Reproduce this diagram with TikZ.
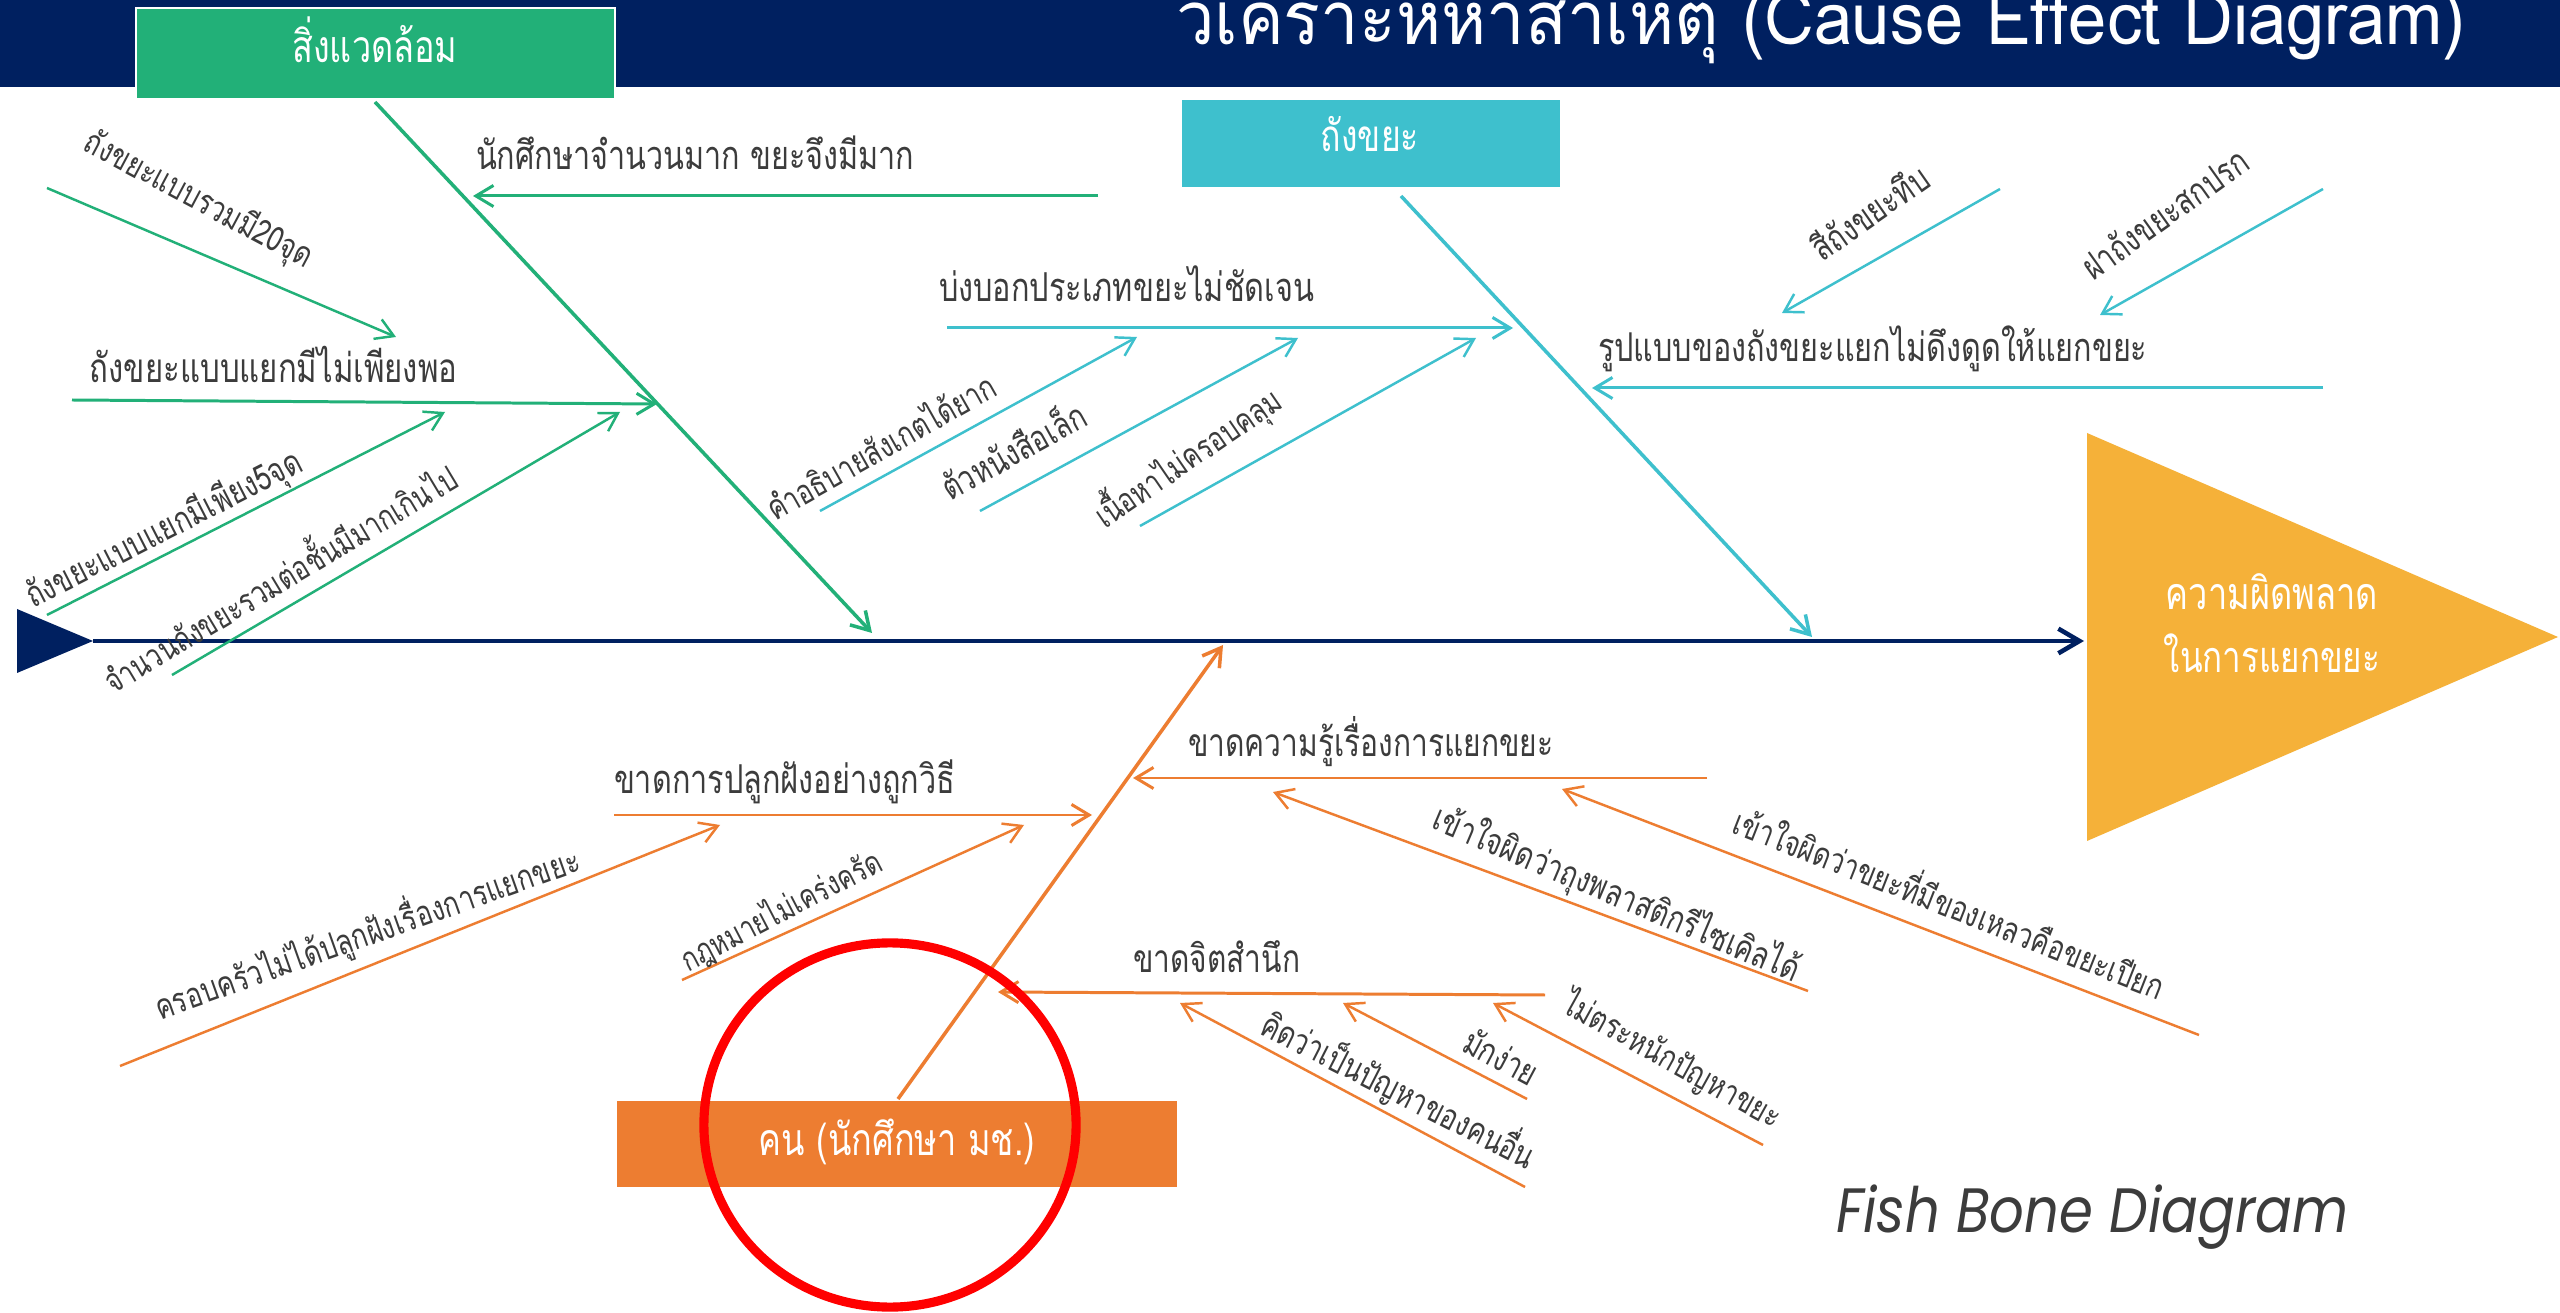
\documentclass[tikz,border=0pt]{standalone}
\usepackage{graphicx}
\usepackage{fontspec}
\setmainfont[Script=Thai]{Loma}
\newfontfamily\popfont{Poppins}
\usetikzlibrary{arrows.meta,shapes.geometric}
\definecolor{navy}{HTML}{002060}
\definecolor{cgreen}{HTML}{22B078}
\definecolor{ccyan}{HTML}{3EC0CD}
\definecolor{corange}{HTML}{ED7D31}
\definecolor{cgold}{HTML}{F5B139}
\definecolor{ctext}{HTML}{3C3C3C}
% fit a text to a width (in mm; 1 px of the reference = 0.1 mm) and stretch it vertically
\newcommand\fitw[2]{\scalebox{1}[1.3]{\resizebox{#1mm}{!}{#2}}}
\newcommand\fitt[3]{\scalebox{1}[#2]{\resizebox{#1mm}{!}{#3}}}
\tikzset{
  lbl/.style={inner sep=0pt, outer sep=0pt, text=ctext, anchor=base west},
  wlbl/.style={inner sep=0pt, outer sep=0pt, text=white, anchor=base},
  tipb/.style={-{Straight Barb[length=5pt,width=6pt]}},
  catline/.style={line width=1pt, tipb},
  bone/.style={line width=0.85pt, tipb},
  subbone/.style={line width=0.7pt, tipb},
  boxnode/.style={inner sep=0pt, outer sep=0pt, draw=none},
}
\begin{document}
\begin{tikzpicture}[x=0.01cm,y=-0.01cm]
\useasboundingbox (0,0) rectangle (2560,1313);
\clip (0,0) rectangle (2560,1313);
\fill[white] (0,0) rectangle (2560,1313);
% header
\fill[navy] (0,0) rectangle (2560,87);
\node[lbl, text=white] (title) at (1176,45) {\fitt{128.9}{1.08}{วิเคราะห์หาสาเหตุ (Cause Effect Diagram)}};

% category boxes
\node[boxnode, fill=cgreen, draw=white, line width=0.6pt, minimum width=47.9mm, minimum height=9.1mm] (envbox) at (375.5,53.5) {};
\node[wlbl] (envtxt) at (375,63) {\fitw{16.5}{สิ่งแวดล้อม}};
\node[boxnode, fill=ccyan, minimum width=37.8mm, minimum height=8.7mm] (binbox) at (1371,143.5) {};
\node[wlbl] (bintxt) at (1370,152) {\fitw{9.8}{ถังขยะ}};
\node[boxnode, fill=corange, minimum width=56mm, minimum height=8.6mm] (ppl) at (897,1144) {};
\node[wlbl] (ppltxt) at (897,1155) {\fitw{27.6}{คน (นักศึกษา มช.)}};

% effect triangle
\coordinate (eA) at (2087,433);
\coordinate (eB) at (2558,637);
\coordinate (eC) at (2087,841);
\fill[cgold] (eA) -- (eB) -- (eC) -- cycle;
\node[wlbl] (eff1) at (2272,610) {\fitw{21.2}{ความผิดพลาด}};
\node[wlbl] (eff2) at (2272,673) {\fitw{21.6}{ในการแยกขยะ}};

% main spine
\coordinate (tA) at (17,609);
\coordinate (tB) at (93,641);
\coordinate (tC) at (17,673);
\fill[navy] (tA) -- (tB) -- (tC) -- cycle;
\coordinate (spE) at (2084,641);
\draw[navy, line width=1.3pt, -{Straight Barb[length=6pt,width=7pt]}] (tB) -- (spE);

% ---------- green (environment) ----------
\coordinate (gS) at (375,102); \coordinate (gE) at (872,633);
\draw[catline, cgreen] (gS) -- (gE);
\coordinate (g1a) at (1098,196); \coordinate (g1b) at (473,196);
\draw[bone, cgreen] (g1a) -- (g1b);
\node[lbl] (tg0) at (476,170) {\fitw{43.8}{นักศึกษาจำนวนมาก ขยะจึงมีมาก}};
\coordinate (g2a) at (72,400); \coordinate (g2b) at (657,404);
\draw[bone, cgreen] (g2a) -- (g2b);
\node[lbl] (tg00) at (90,383) {\fitw{36.7}{ถังขยะแบบแยกมีไม่เพียงพอ}};
\coordinate (g3a) at (47,188); \coordinate (g3b) at (396,337);
\draw[subbone, cgreen] (g3a) -- (g3b);
\node[lbl, rotate=-28] (tg1) at (82,150) {\fitw{25.3}{ถังขยะแบบรวมมี20จุด}};
\coordinate (g4a) at (47,615); \coordinate (g4b) at (445,412);
\draw[subbone, cgreen] (g4a) -- (g4b);
\node[lbl, rotate=27] (tg2) at (33,609) {\fitw{30.5}{ถังขยะแบบแยกมีเพียง5จุด}};
\coordinate (g5a) at (172,675); \coordinate (g5b) at (620,412);
\draw[subbone, cgreen] (g5a) -- (g5b);
\node[lbl, rotate=31] (tg3) at (113,695) {\fitw{40.5}{จำนวนถังขยะรวมต่อชั้นมีมากเกินไป}};

% ---------- cyan (bins) ----------
\coordinate (cS) at (1401,196); \coordinate (cE) at (1812,637);
\draw[catline, ccyan] (cS) -- (cE);
\coordinate (c1a) at (947,328); \coordinate (c1b) at (1513,328);
\draw[bone, ccyan] (c1a) -- (c1b);
\node[lbl] (tc0) at (939,302) {\fitw{37.5}{บ่งบอกประเภทขยะไม่ชัดเจน}};
\coordinate (c2a) at (2323,388); \coordinate (c2b) at (1592,388);
\draw[bone, ccyan] (c2a) -- (c2b);
\node[lbl] (tc00) at (1598,362) {\fitw{54.9}{รูปแบบของถังขยะแยกไม่ดึงดูดให้แยกขยะ}};
\coordinate (c3a) at (2000,189); \coordinate (c3b) at (1782,313);
\draw[subbone, ccyan] (c3a) -- (c3b);
\node[lbl, rotate=35] (tc4) at (1822,263) {\fitw{13.5}{สีถังขยะทึบ}};
\coordinate (c4a) at (2323,189); \coordinate (c4b) at (2100,315);
\draw[subbone, ccyan] (c4a) -- (c4b);
\node[lbl, rotate=35.5] (tc5) at (2093,282) {\fitw{19.6}{ฝาถังขยะสกปรก}};
\coordinate (c5a) at (820,511); \coordinate (c5b) at (1137,337);
\draw[subbone, ccyan] (c5a) -- (c5b);
\node[lbl, rotate=29.5] (tc1) at (775,522) {\fitw{25.8}{คำอธิบายสังเกตได้ยาก}};
\coordinate (c6a) at (980,511); \coordinate (c6b) at (1298,338);
\draw[subbone, ccyan] (c6a) -- (c6b);
\node[lbl, rotate=29] (tc2) at (950,502) {\fitw{16.0}{ตัวหนังสือเล็ก}};
\coordinate (c7a) at (1140,526); \coordinate (c7b) at (1476,338);
\draw[subbone, ccyan] (c7a) -- (c7b);
\node[lbl, rotate=34.5] (tc3) at (1105,530) {\fitw{21.8}{เนื้อหาไม่ครอบคลุม}};

% ---------- orange (people) ----------
\coordinate (oS) at (898,1099); \coordinate (oE) at (1223,645);
\draw[catline, corange] (oS) -- (oE);
\coordinate (o1a) at (614,815); \coordinate (o1b) at (1092,815);
\draw[bone, corange] (o1a) -- (o1b);
\node[lbl] (to0) at (614,794) {\fitw{34.1}{ขาดการปลูกฝังอย่างถูกวิธี}};
\coordinate (o2a) at (1707,778); \coordinate (o2b) at (1133,778);
\draw[bone, corange] (o2a) -- (o2b);
\node[lbl] (to00) at (1188,757) {\fitw{36.5}{ขาดความรู้เรื่องการแยกขยะ}};
\coordinate (o3a) at (1545,995); \coordinate (o3b) at (998,992);
\draw[bone, corange] (o3a) -- (o3b);
\node[lbl] (to000) at (1133,972) {\fitw{16.7}{ขาดจิตสำนึก}};
\coordinate (o4a) at (120,1066); \coordinate (o4b) at (720,825);
\draw[subbone, corange] (o4a) -- (o4b);
\node[lbl, rotate=19.5] (to1) at (160,1020) {\fitw{44.8}{ครอบครัวไม่ได้ปลูกฝังเรื่องการแยกขยะ}};
\coordinate (o5a) at (682,980); \coordinate (o5b) at (1024,825);
\draw[subbone, corange] (o5a) -- (o5b);
\node[lbl, rotate=27.5] (to2) at (688,972) {\fitw{22.2}{กฎหมายไม่เคร่งครัด}};
\coordinate (o6a) at (1808,991); \coordinate (o6b) at (1273,792);
\draw[subbone, corange] (o6a) -- (o6b);
\node[lbl, rotate=-23] (to3) at (1430,828) {\fitw{39.5}{เข้าใจผิดว่าถุงพลาสติกรีไซเคิลได้}};
\coordinate (o7a) at (2199,1035); \coordinate (o7b) at (1562,789);
\draw[subbone, corange] (o7a) -- (o7b);
\node[lbl, rotate=-21.5] (to4) at (1730,832) {\fitw{46.0}{เข้าใจผิดว่าขยะที่มีของเหลวคือขยะเปียก}};
\coordinate (o8a) at (1525,1187); \coordinate (o8b) at (1180,1003);
\draw[subbone, corange] (o8a) -- (o8b);
\node[lbl, rotate=-27] (to5) at (1258,1033) {\fitw{30.2}{คิดว่าเป็นปัญหาของคนอื่น}};
\coordinate (o9a) at (1527,1099); \coordinate (o9b) at (1343,1003);
\draw[subbone, corange] (o9a) -- (o9b);
\node[lbl, rotate=-28] (to6) at (1460,1050) {\fitw{7.9}{มักง่าย}};
\coordinate (o10a) at (1763,1145); \coordinate (o10b) at (1493,1003);
\draw[subbone, corange] (o10a) -- (o10b);
\node[lbl, rotate=-29] (to7) at (1560,1011) {\fitw{24.4}{ไม่ตระหนักปัญหาขยะ}};

% red highlight
\node[draw=red, line width=2.6pt, ellipse, inner sep=0pt, minimum width=37.2mm, minimum height=36.4mm] (hl) at (890,1125) {};

% footer caption
\node[lbl] (fbd) at (1836,1232) {\fitt{51.2}{1.15}{\popfont\itshape Fish Bone Diagram}};
\end{tikzpicture}
\end{document}
